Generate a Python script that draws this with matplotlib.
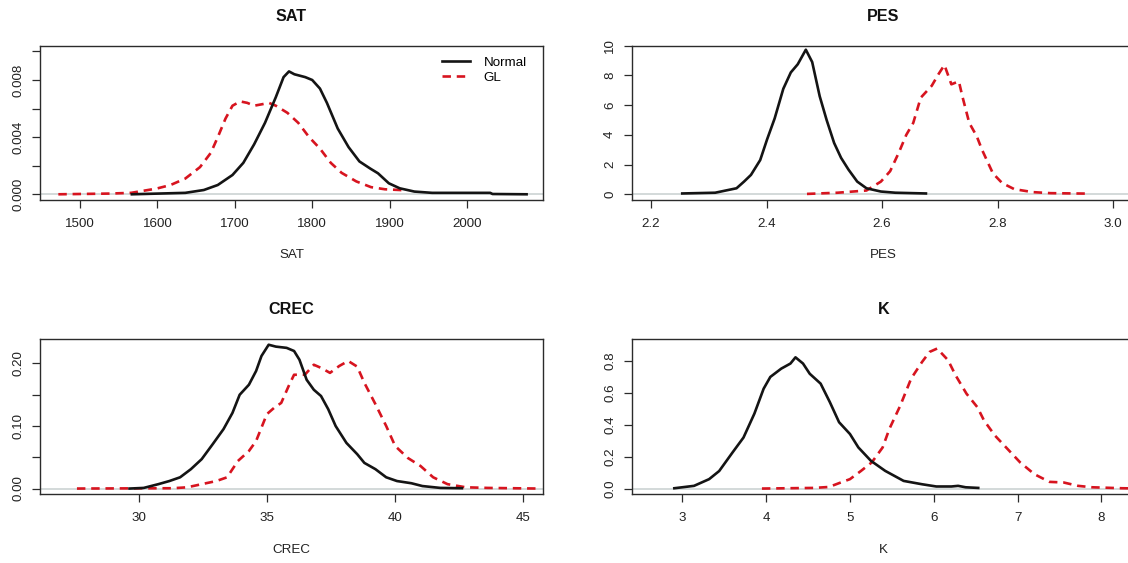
import matplotlib
matplotlib.use("Agg")
import matplotlib.pyplot as plt
from matplotlib.ticker import FixedLocator, FixedFormatter

plt.rcParams["font.family"] = ["Liberation Sans", "DejaVu Sans"]

# ---- posterior densities: SAT ----
sat_normal_x = [1567, 1636, 1660, 1678, 1697, 1711, 1725, 1739, 1753, 1763, 1770, 1777,
                1791, 1800, 1810, 1819, 1833, 1847, 1861, 1875, 1885, 1899, 1913, 1932,
                1955, 2030, 2033, 2077]
sat_normal_y = [0.0, 0.0001, 0.0003, 0.00065, 0.00135, 0.0022, 0.0035, 0.0050, 0.0068,
                0.0082, 0.0086, 0.0084, 0.0082, 0.0080, 0.0074, 0.0064, 0.0046, 0.0033,
                0.0023, 0.0018, 0.00147, 0.00077, 0.00042, 0.00019, 0.0001, 0.0001,
                0.00002, 0.0]
sat_gl_x = [1472, 1538, 1566, 1599, 1617, 1636, 1655, 1669, 1678, 1688, 1697, 1707, 1716,
            1725, 1735, 1744, 1753, 1768, 1782, 1796, 1810, 1824, 1838, 1857, 1876, 1894,
            1913, 1922]
sat_gl_y = [0.0, 0.00005, 0.0001, 0.0004, 0.00065, 0.0011, 0.0019, 0.0029, 0.0040, 0.0053,
            0.0062, 0.0065, 0.0064, 0.0062, 0.0063, 0.0064, 0.0062, 0.0057, 0.0050, 0.0040,
            0.0032, 0.0022, 0.0015, 0.0009, 0.0005, 0.00035, 0.0003, 0.00026]

# ---- PES ----
pes_normal_x = [2.254, 2.311, 2.348, 2.361, 2.373, 2.389, 2.401, 2.414, 2.429, 2.442, 2.454,
                2.468, 2.479, 2.492, 2.504, 2.517, 2.529, 2.542, 2.557, 2.573, 2.598, 2.623,
                2.676]
pes_normal_y = [0.05, 0.1, 0.4, 0.85, 1.3, 2.3, 3.7, 5.1, 7.1, 8.2, 8.75, 9.73, 8.9, 6.6,
                5.0, 3.45, 2.45, 1.65, 0.85, 0.4, 0.18, 0.1, 0.05]
pes_gl_x = [2.470, 2.523, 2.573, 2.598, 2.614, 2.629, 2.642, 2.654, 2.667, 2.686, 2.698,
            2.708, 2.720, 2.733, 2.739, 2.751, 2.764, 2.773, 2.792, 2.808, 2.829, 2.861,
            2.892, 2.957]
pes_gl_y = [0.02, 0.1, 0.25, 0.85, 1.55, 2.8, 4.0, 4.8, 6.5, 7.3, 8.1, 8.7, 7.4, 7.6, 6.6,
            4.8, 3.9, 3.0, 1.4, 0.75, 0.34, 0.14, 0.07, 0.04]

# ---- CREC ----
crec_normal_x = [29.65, 30.2, 30.77, 31.2, 31.62, 32.04, 32.46, 32.89, 33.31, 33.66, 33.94,
                 34.3, 34.58, 34.79, 35.07, 35.35, 35.77, 36.06, 36.27, 36.55, 36.83, 37.11,
                 37.39, 37.68, 38.1, 38.52, 38.8, 39.23, 39.65, 40.07, 40.63, 41.06, 41.76,
                 42.6]
crec_normal_y = [0.0, 0.001, 0.007, 0.012, 0.018, 0.031, 0.047, 0.071, 0.095, 0.121, 0.15,
                 0.166, 0.188, 0.212, 0.230, 0.227, 0.225, 0.22, 0.206, 0.174, 0.158, 0.148,
                 0.127, 0.100, 0.073, 0.055, 0.041, 0.031, 0.018, 0.012, 0.0085, 0.004,
                 0.001, 0.0005]
crec_gl_x = [27.6, 31.34, 31.9, 32.46, 33.03, 33.45, 33.87, 34.3, 34.58, 35.0, 35.28, 35.56,
             35.85, 36.06, 36.48, 36.83, 37.11, 37.46, 37.82, 38.17, 38.52, 38.8, 39.23,
             39.65, 40.0, 40.49, 40.99, 41.48, 42.04, 42.75, 43.6, 45.56]
crec_gl_y = [0.0, 0.0005, 0.002, 0.007, 0.012, 0.018, 0.044, 0.06, 0.076, 0.119, 0.129,
             0.137, 0.164, 0.182, 0.182, 0.198, 0.193, 0.185, 0.196, 0.204, 0.195, 0.169,
             0.135, 0.1, 0.068, 0.049, 0.036, 0.018, 0.007, 0.002, 0.001, 0.0]

# ---- K ----
k_normal_x = [2.905, 3.14, 3.32, 3.44, 3.6, 3.73, 3.86, 3.97, 4.05, 4.18, 4.29, 4.35, 4.44,
              4.52, 4.65, 4.76, 4.87, 5.0, 5.1, 5.25, 5.42, 5.64, 5.86, 6.03, 6.21, 6.29,
              6.38, 6.53]
k_normal_y = [0.002, 0.017, 0.059, 0.11, 0.227, 0.32, 0.47, 0.626, 0.70, 0.752, 0.784,
              0.823, 0.784, 0.72, 0.658, 0.542, 0.416, 0.342, 0.258, 0.174, 0.111, 0.048,
              0.027, 0.013, 0.013, 0.017, 0.008, 0.004]
k_gl_x = [3.95, 4.57, 4.75, 4.87, 5.0, 5.13, 5.26, 5.39, 5.47, 5.6, 5.73, 5.86, 5.95, 6.04,
          6.17, 6.26, 6.39, 6.52, 6.6, 6.73, 6.88, 7.03, 7.2, 7.38, 7.55, 7.72, 7.89, 8.24,
          8.5]
k_gl_y = [0.0, 0.004, 0.01, 0.034, 0.059, 0.11, 0.164, 0.258, 0.374, 0.52, 0.69, 0.794,
          0.857, 0.878, 0.805, 0.71, 0.595, 0.51, 0.426, 0.332, 0.248, 0.164, 0.09, 0.042,
          0.038, 0.017, 0.008, 0.002, 0.0]

series_labels = ["Normal", "GL"]

BLACK = "#141414"
RED = "#d7141f"
ZERO = "#c8cfd0"
SPINE = "#2b2b2b"
FS = 9.6

W, H = 1128, 563
fig = plt.figure(figsize=(W / 100, H / 100), dpi=100)


def frac(left, top, right, bottom):
    return [left / W, 1 - bottom / H, (right - left) / W, (bottom - top) / H]


panels = [
    dict(title="SAT", rect=frac(40, 45.7, 543, 200),
         data=(sat_normal_x, sat_normal_y, sat_gl_x, sat_gl_y),
         xlim=(1448.3, 2098.2), ylim=(-0.0004, 0.0104),
         xticks=[1500, 1600, 1700, 1800, 1900, 2000],
         yticks=[0, 0.002, 0.004, 0.006, 0.008, 0.010],
         ylabels=["0.000", "", "0.004", "", "0.008", ""], legend=True),
    dict(title="PES", rect=frac(632, 45.7, 1135, 200),
         data=(pes_normal_x, pes_normal_y, pes_gl_x, pes_gl_y),
         xlim=(2.167, 3.038), ylim=(-0.39, 10.0),
         xticks=[2.2, 2.4, 2.6, 2.8, 3.0],
         yticks=[0, 2, 4, 6, 8, 10],
         ylabels=["0", "2", "4", "6", "8", "10"], legend=False),
    dict(title="CREC", rect=frac(40, 339.3, 543, 494.3),
         data=(crec_normal_x, crec_normal_y, crec_gl_x, crec_gl_y),
         xlim=(26.16, 45.76), ylim=(-0.0092, 0.2387),
         xticks=[30, 35, 40, 45],
         yticks=[0, 0.05, 0.10, 0.15, 0.20],
         ylabels=["0.00", "", "0.10", "", "0.20"], legend=False),
    dict(title="K", rect=frac(632, 339.3, 1135, 494.3),
         data=(k_normal_x, k_normal_y, k_gl_x, k_gl_y),
         xlim=(2.40, 8.40), ylim=(-0.036, 0.936),
         xticks=[3, 4, 5, 6, 7, 8],
         yticks=[0, 0.2, 0.4, 0.6, 0.8],
         ylabels=["0.0", "0.2", "0.4", "0.6", "0.8"], legend=False),
]

for p in panels:
    ax = fig.add_axes(p["rect"])
    nx, ny, gx, gy = p["data"]
    ax.axhline(0, color=ZERO, lw=1.1, zorder=1)
    ax.plot(nx, ny, color=BLACK, lw=1.9, solid_joinstyle="round", zorder=3,
            label=series_labels[0])
    ax.plot(gx, gy, color=RED, lw=1.9, dashes=(3.2, 2.2), zorder=2,
            label=series_labels[1])
    ax.set_xlim(*p["xlim"])
    ax.set_ylim(*p["ylim"])
    ax.xaxis.set_major_locator(FixedLocator(p["xticks"]))
    ax.set_xticklabels([f"{t:g}" if p["title"] != "PES" else f"{t:.1f}"
                        for t in p["xticks"]])
    ax.yaxis.set_major_locator(FixedLocator(p["yticks"]))
    ax.yaxis.set_major_formatter(FixedFormatter(p["ylabels"]))
    ax.tick_params(axis="both", direction="out", length=6, width=0.9, color=SPINE,
                   labelsize=FS, labelcolor="#222222")
    ax.tick_params(axis="x", pad=7)
    ax.tick_params(axis="y", pad=5.5)
    for lab in ax.get_yticklabels():
        lab.set_rotation(90)
        lab.set_va("center")
    for s in ax.spines.values():
        s.set_color(SPINE)
        s.set_linewidth(1.0)
    ax.set_title(p["title"], fontsize=11.6, fontweight="bold", pad=18, color="#111111")
    ax.set_xlabel(p["title"], fontsize=FS, labelpad=14, color="#222222")
    if p["legend"]:
        ax.legend(loc="upper left", bbox_to_anchor=(0.800, 0.93), frameon=False,
                  fontsize=FS, handlelength=2.1, handletextpad=1.0, labelspacing=0.2,
                  borderpad=0, borderaxespad=0)

fig.savefig("out.png", dpi=100)
